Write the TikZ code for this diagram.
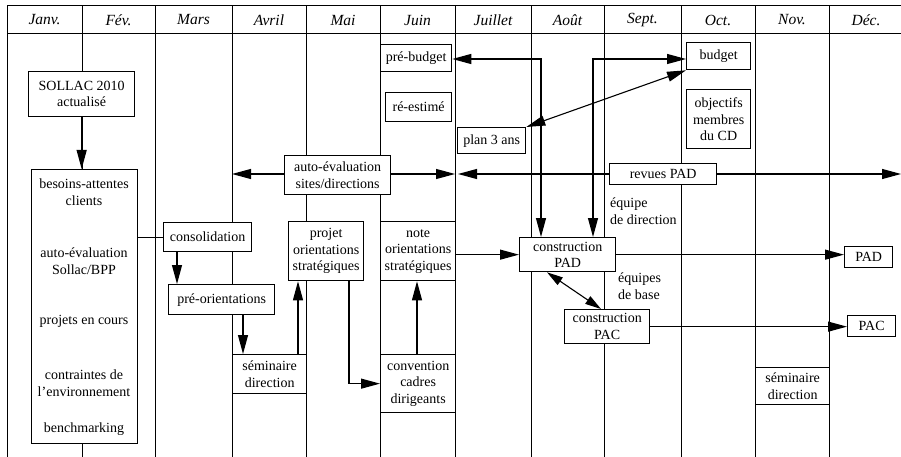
\documentclass[tikz,border=0pt]{standalone}
\usepackage{fontspec}
\setmainfont{Liberation Serif}
\usetikzlibrary{arrows.meta}
\begin{document}
\begin{tikzpicture}[x=1pt,y=-1pt,
  txt/.style={font=\fontsize{14}{17}\selectfont, inner sep=0pt, align=center},
  box/.style={draw, fill=white, line width=1.3pt, inner sep=0pt, align=center, anchor=north west, font=\fontsize{14}{16.5}\selectfont},
  month/.style={font=\fontsize{15.5}{17}\selectfont\itshape, inner sep=0pt},
  col/.style={line width=1pt},
  arr/.style={line width=1.1pt, -{Triangle[length=19pt,width=10pt]}},
  arrb/.style={line width=1.1pt, {Triangle[length=19pt,width=10pt]}-{Triangle[length=19pt,width=10pt]}},
  arrs/.style={line width=1.1pt, {Triangle[length=16pt,width=9pt]}-{Triangle[length=16pt,width=9pt]}},
  lin/.style={line width=1.1pt}]
\useasboundingbox (0,0) rectangle (901,457);
% grid
\draw[col] (7,6) -- (901,6);
\draw[col] (7,34) -- (901,34);
\foreach \xx in {7,82,155,232,306,380,455,531,604,681,755,829}
  \draw[col] (\xx,6) -- (\xx,457);
% months
\node[month] (m1) at (44.5,20) {Janv.};
\node[month] (m2) at (118.5,20) {Fév.};
\node[month] (m3) at (193.5,20) {Mars};
\node[month] (m4) at (269,20) {Avril};
\node[month] (m5) at (343,20) {Mai};
\node[month] (m6) at (417.5,20) {Juin};
\node[month] (m7) at (493,20) {Juillet};
\node[month] (m8) at (567.5,20) {Août};
\node[month] (m9) at (642.5,20) {Sept.};
\node[month] (m10) at (718,20) {Oct.};
\node[month] (m11) at (792,20) {Nov.};
\node[month] (m12) at (866,20) {Déc.};
% boxes
\node[box, minimum width=106pt, minimum height=45pt] (sollac) at (28,71) {SOLLAC 2010\\actualisé};
\node[box, minimum width=106pt, minimum height=274pt] (besoins) at (31,169) {};
\node[txt] (b1) at (84,192) {besoins-attentes\\clients};
\node[txt] (b2) at (84,261) {auto-évaluation\\Sollac/BPP};
\node[txt] (b3) at (84,321) {projets en cours};
\node[txt] (b4) at (84,383) {contraintes de\\l'environnement};
\node[txt] (b5) at (84,429) {benchmarking};
\node[box, minimum width=88pt, minimum height=29pt] (conso) at (163,222) {consolidation};
\node[box, minimum width=106pt, minimum height=30pt] (preor) at (168,284) {pré-orientations};
\node[box, minimum width=74pt, minimum height=39pt] (sem1) at (232,354) {séminaire\\direction};
\node[box, minimum width=75pt, minimum height=59pt] (projet) at (288,221) {projet\\orientations\\stratégiques};
\node[box, minimum width=75pt, minimum height=59pt] (note) at (380,221) {note\\orientations\\stratégiques};
\node[box, minimum width=75pt, minimum height=58pt] (conv) at (380,354) {convention\\cadres\\dirigeants};
\node[box, minimum width=106pt, minimum height=39pt] (autoev) at (284,155) {auto-évaluation\\sites/directions};
\node[box, minimum width=71pt, minimum height=27pt] (prebud) at (380,44) {pré-budget};
\node[box, minimum width=66pt, minimum height=29pt] (reest) at (385,92) {ré-estimé};
\node[box, minimum width=68pt, minimum height=26pt] (plan) at (457,127) {plan 3 ans};
\node[box, minimum width=64pt, minimum height=27pt] (budget) at (686,42) {budget};
\node[box, minimum width=64pt, minimum height=59pt] (obj) at (686,89) {objectifs\\membres\\du CD};
\node[box, minimum width=107pt, minimum height=21pt] (revues) at (609,163) {revues PAD};
\node[box, minimum width=96pt, minimum height=34pt] (pad) at (519,237) {construction\\PAD};
\node[box, minimum width=85pt, minimum height=34pt] (pac) at (564,309) {construction\\PAC};
\node[box, minimum width=48pt, minimum height=21pt] (padr) at (844,246) {PAD};
\node[box, minimum width=48pt, minimum height=21pt] (pacr) at (847,315) {PAC};
\node[box, minimum width=74pt, minimum height=37pt] (sem2) at (755,367) {séminaire\\direction};
\node[txt, align=left, anchor=north west] (eqdir) at (610,198) {équipe\\de direction};
\node[txt, align=left, anchor=north west] (eqbase) at (618,273) {équipes\\de base};
% connectors
\draw[arr] (sollac.south) -- (sollac.south |- besoins.north);
\draw[lin] (besoins.east |- conso.west) -- (conso.west);
\draw[arr] (177,0 |- conso.south) -- (177,0 |- preor.north);
\draw[arr] (243,0 |- preor.south) -- (243,0 |- sem1.north);
\draw[arr] (298,0 |- sem1.north) -- (298,0 |- projet.south);
\draw[arr] (349,0 |- projet.south) -- (349,0 |- conv.west) -- (conv.west);
\draw[arr] (417,0 |- conv.north) -- (417,0 |- note.south);
\coordinate (aeL) at (232,174);
\coordinate (aeR) at (455,174);
\draw[arr] (autoev.west |- aeL) -- (aeL);
\draw[arr] (autoev.east |- aeR) -- (aeR);
\coordinate (rvL) at (458,174);
\coordinate (rvR) at (901,174);
\draw[arr] (revues.west |- rvL) -- (rvL);
\draw[arr] (revues.east |- rvR) -- (rvR);
\draw[arrb] (prebud.east |- 0,59) -- (541,59) -- (541,0 |- pad.north);
\draw[arrb] (budget.west |- 0,59) -- (593,59) -- (593,0 |- pad.north);
\draw[arrb] (budget.south west) -- (plan.north east);
\draw[arr] (note.east |- pad.west) -- (pad.west);
\draw[arr] (pad.east) -- (pad.east -| padr.west);
\draw[arrs] (547,0 |- pad.south) -- (601,0 |- pac.north);
\draw[arr] (pac.east) -- (pac.east -| pacr.west);
\end{tikzpicture}
\end{document}
